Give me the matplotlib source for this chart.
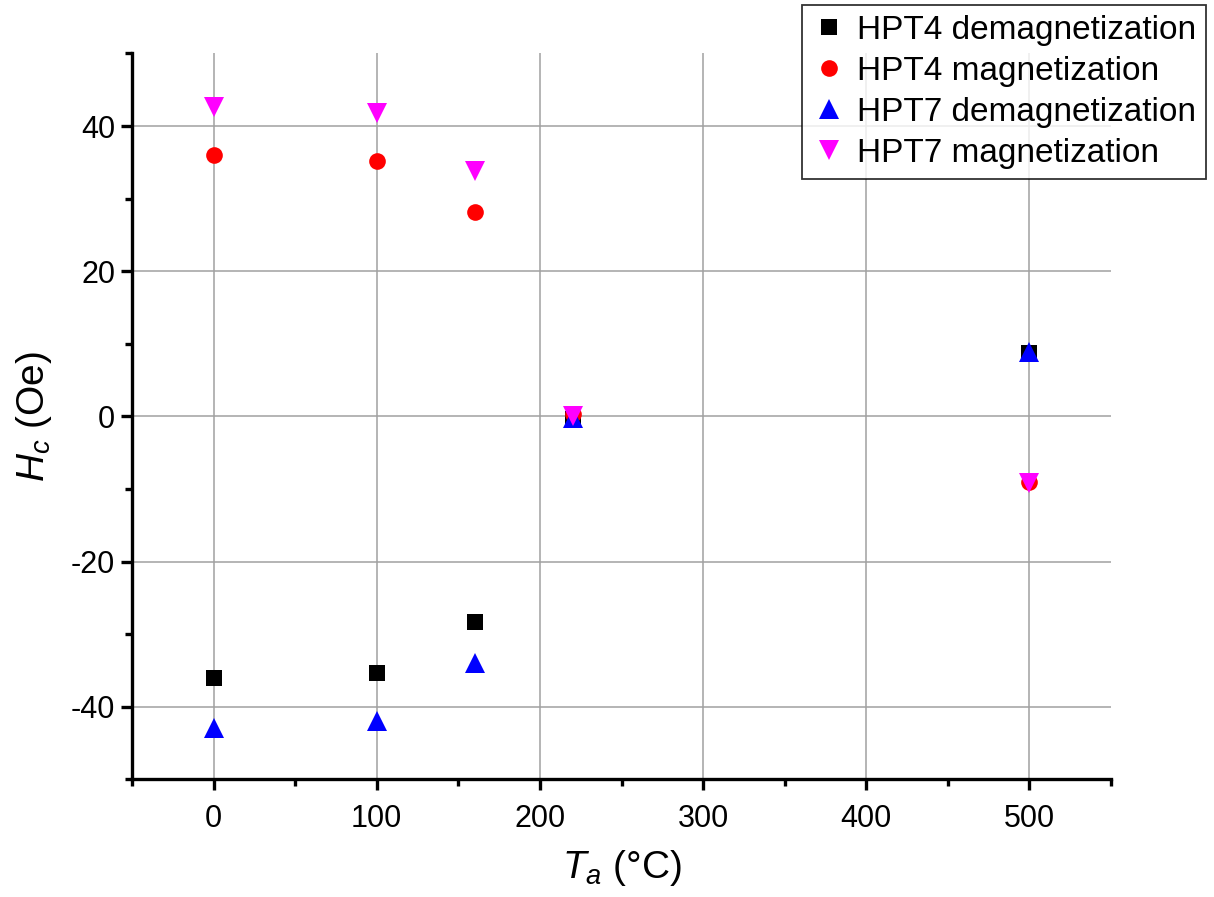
import matplotlib
matplotlib.use("Agg")
import matplotlib.pyplot as plt
from matplotlib.ticker import MultipleLocator

plt.rcParams['font.family'] = ['Liberation Sans', 'DejaVu Sans']
plt.rcParams['mathtext.fontset'] = 'custom'
plt.rcParams['mathtext.rm'] = 'Liberation Sans'
plt.rcParams['mathtext.it'] = 'Liberation Sans:italic'
plt.rcParams['axes.unicode_minus'] = False

temps = [0, 100, 160, 220, 500]
hpt4_demag = [-36.0, -35.3, -28.3, -0.3, 8.7]
hpt4_mag = [36.0, 35.2, 28.2, 0.3, -9.0]
hpt7_demag = [-42.9, -41.9, -34.0, -0.2, 8.9]
hpt7_mag = [42.6, 41.8, 33.8, 0.1, -9.2]

series = [
    ("HPT4 demagnetization", hpt4_demag, 's', '#000000', 11),
    ("HPT4 magnetization", hpt4_mag, 'o', '#ff0000', 12),
    ("HPT7 demagnetization", hpt7_demag, '^', '#0000ff', 15),
    ("HPT7 magnetization", hpt7_mag, 'v', '#ff00ff', 15),
]

fig = plt.figure(figsize=(12.14, 8.97), dpi=100)
ax = fig.add_axes([0.1087, 0.131, 0.8065, 0.8094])

for label, vals, m, c, ms in series:
    ax.plot(temps, vals, linestyle='none', marker=m, color=c, markersize=ms,
            markeredgewidth=0, label=label, zorder=3)

ax.set_xlim(-50, 550)
ax.set_ylim(-50, 50)
ax.xaxis.set_major_locator(MultipleLocator(100))
ax.xaxis.set_minor_locator(MultipleLocator(50))
ax.yaxis.set_major_locator(MultipleLocator(20))
ax.yaxis.set_minor_locator(MultipleLocator(10))

ax.grid(True, which='major', color='#a0a0a0', linewidth=1.1, zorder=0)
ax.set_axisbelow(True)

for s in ['top', 'right']:
    ax.spines[s].set_visible(False)
for s in ['left', 'bottom']:
    ax.spines[s].set_linewidth(2.4)

ax.tick_params(which='major', direction='out', length=8, width=2.4, labelsize=22)
ax.tick_params(axis='x', which='major', pad=10)
ax.tick_params(axis='y', which='major', pad=4)
ax.tick_params(which='minor', direction='out', length=5, width=2.4)

ax.set_xlabel(r'$T_a$ (°C)', fontsize=28, labelpad=10)
ax.set_ylabel(r'$H_c$ (Oe)', fontsize=28, labelpad=12)

leg = fig.legend(loc='upper right', bbox_to_anchor=(0.9934, 0.9944), fontsize=24,
                 frameon=True, fancybox=False, edgecolor='black',
                 handletextpad=0.35, labelspacing=0.3, borderpad=0.3,
                 handlelength=1.0, borderaxespad=0)
leg.get_frame().set_linewidth(1.3)

fig.savefig('out.png', dpi=100)
